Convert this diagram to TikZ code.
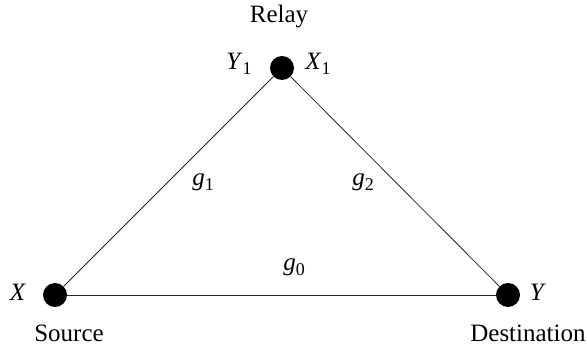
\documentclass[tikz,border=0pt]{standalone}
\usepackage{fontspec}
\setmainfont{Liberation Serif}
\newfontfamily\timesfont{Liberation Serif}
\newcommand\mysub[2]{\textit{#1}\raisebox{-0.22em}{\fontsize{18}{20}\selectfont #2}}
\begin{document}
\begin{tikzpicture}[x=1pt,y=-1pt,
  dot/.style={circle,fill=black,inner sep=0pt,minimum size=24pt},
  lbl/.style={inner sep=0pt,font=\timesfont\fontsize{25}{30}\selectfont},
  edge/.style={line width=0.8pt,draw=black!85}]
\useasboundingbox (0,0) rectangle (587,347);
\node[dot] (r) at (282,68) {};
\node[dot] (s) at (55,295) {};
\node[dot] (d) at (508,295) {};
\draw[edge] (r) -- (s);
\draw[edge] (r) -- (d);
\draw[edge] (s) -- (d);
\node[lbl] (relay) at (279,17) {Relay};
\node[lbl] (src) at (69,333) {Source};
\node[lbl] (dst) at (528,333) {Destination};
\node[lbl] (y1) at (239,64) {\mysub{Y}{1}};
\node[lbl] (x1) at (318,64) {\mysub{X}{1}};
\node[lbl] (x) at (18,292) {\textit{X}};
\node[lbl] (y) at (538,292) {\textit{Y}};
\node[lbl] (g1) at (203,182) {\mysub{g}{1}};
\node[lbl] (g2) at (363,182) {\mysub{g}{2}};
\node[lbl] (g0) at (294,267) {\mysub{g}{0}};
\end{tikzpicture}
\end{document}
